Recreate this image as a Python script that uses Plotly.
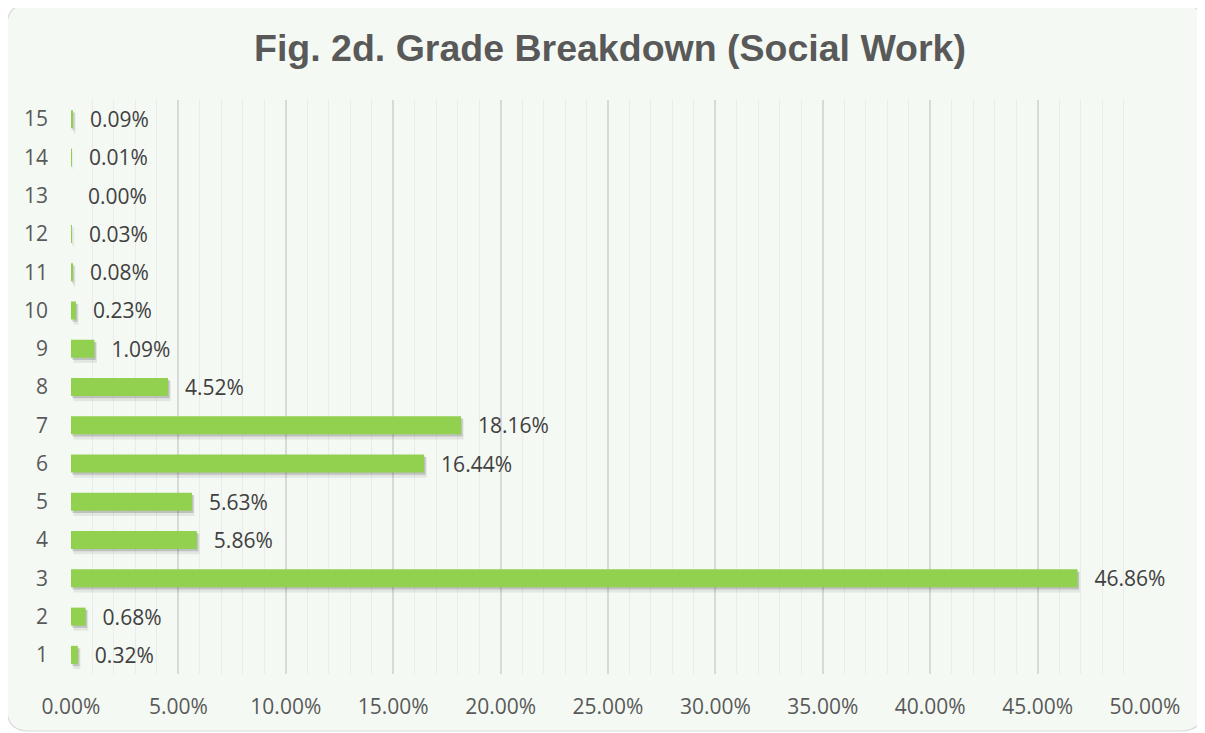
import plotly.graph_objects as go

grades = [1, 2, 3, 4, 5, 6, 7, 8, 9, 10, 11, 12, 13, 14, 15]
shares = [0.0032, 0.0068, 0.4686, 0.0586, 0.0563, 0.1644, 0.1816, 0.0452, 0.0109,
          0.0023, 0.0008, 0.0003, 0.0000, 0.0001, 0.0009]
x_ticks = [0, 0.05, 0.10, 0.15, 0.20, 0.25, 0.30, 0.35, 0.40, 0.45, 0.50]
title_text = "Fig. 2d. Grade Breakdown (Social Work)"

# the page body has an 8px margin; figure is laid out in page pixels minus that
OFF = 8
W, H = 1205 - OFF, 733 - OFF
ML, MR, MT, MB = 71 - OFF, 60, 100 - OFF, 59
PW, PH = W - ML - MR, H - MT - MB

def px(x):
    return (x - OFF - ML) / PW

def py(y):
    return 1 - (y - OFF - MT) / PH

# rounded rectangle panel in page pixel coords
x0, y0, x1, y1, r = 7, 4, 1203, 731, 22
path = (f"M {px(x0 + r)},{py(y0)} L {px(x1 - r)},{py(y0)} "
        f"Q {px(x1)},{py(y0)} {px(x1)},{py(y0 + r)} L {px(x1)},{py(y1 - r)} "
        f"Q {px(x1)},{py(y1)} {px(x1 - r)},{py(y1)} L {px(x0 + r)},{py(y1)} "
        f"Q {px(x0)},{py(y1)} {px(x0)},{py(y1 - r)} L {px(x0)},{py(y0 + r)} "
        f"Q {px(x0)},{py(y0)} {px(x0 + r)},{py(y0)} Z")

BW = 0.47
fig = go.Figure()
# soft blurred shadow (two layers)
for extra, dy, opa, b in [(0.07, 0.10, 0.07, 0.0012), (0.0, 0.06, 0.16, 0.0007)]:
    fig.add_trace(go.Bar(
        x=shares, y=grades, orientation="h", width=BW + extra,
        offset=-(BW + extra) / 2 - dy, base=b,
        marker=dict(color=f"rgba(0,0,0,{opa})", line=dict(width=0)),
        hoverinfo="skip", showlegend=False,
    ))
fig.add_trace(go.Bar(
    x=shares, y=grades, orientation="h", width=BW,
    marker=dict(color="#92D050", line=dict(width=0)),
    texttemplate="\u2002\u2009%{x:.2%}", textposition="outside", constraintext="none",
    textfont=dict(family="Open Sans", size=21, color="#404040"),
    cliponaxis=False, showlegend=False,
))

fig.update_layout(
    width=W, height=H,
    margin=dict(l=ML, r=MR, t=MT, b=MB),
    paper_bgcolor="white", plot_bgcolor="rgba(0,0,0,0)",
    barmode="overlay",
    title=dict(text=f"<b>{title_text}</b>", x=px(610), xref="paper", xanchor="center",
               y=1 - (48 - OFF) / H, yanchor="middle",
               font=dict(family="Liberation Sans", size=37.5, color="#595959")),
    font=dict(family="Open Sans", size=21, color="#595959"),
    shapes=[dict(type="path", path=path, xref="paper", yref="paper",
                 fillcolor="#F5F9F4", line=dict(color="#D9D9D9", width=1.2),
                 layer="below")],
    xaxis=dict(range=[0, 0.5], tickvals=x_ticks, tickformat=".2%",
               showgrid=True, gridcolor="#D9D9D9", gridwidth=1.5,
               minor=dict(dtick=0.01, showgrid=True, gridcolor="#EBEBEB", gridwidth=1),
               zeroline=False, showline=False, ticks="", ticklabelstandoff=18,
               tickfont=dict(family="Open Sans", size=21, color="#595959")),
    yaxis=dict(range=[0.5, 15.5], tickvals=grades, showgrid=False, zeroline=False,
               showline=False, ticks="", ticklabelstandoff=22,
               tickfont=dict(family="Open Sans", size=21, color="#595959")),
)

fig.write_html("out.html")
